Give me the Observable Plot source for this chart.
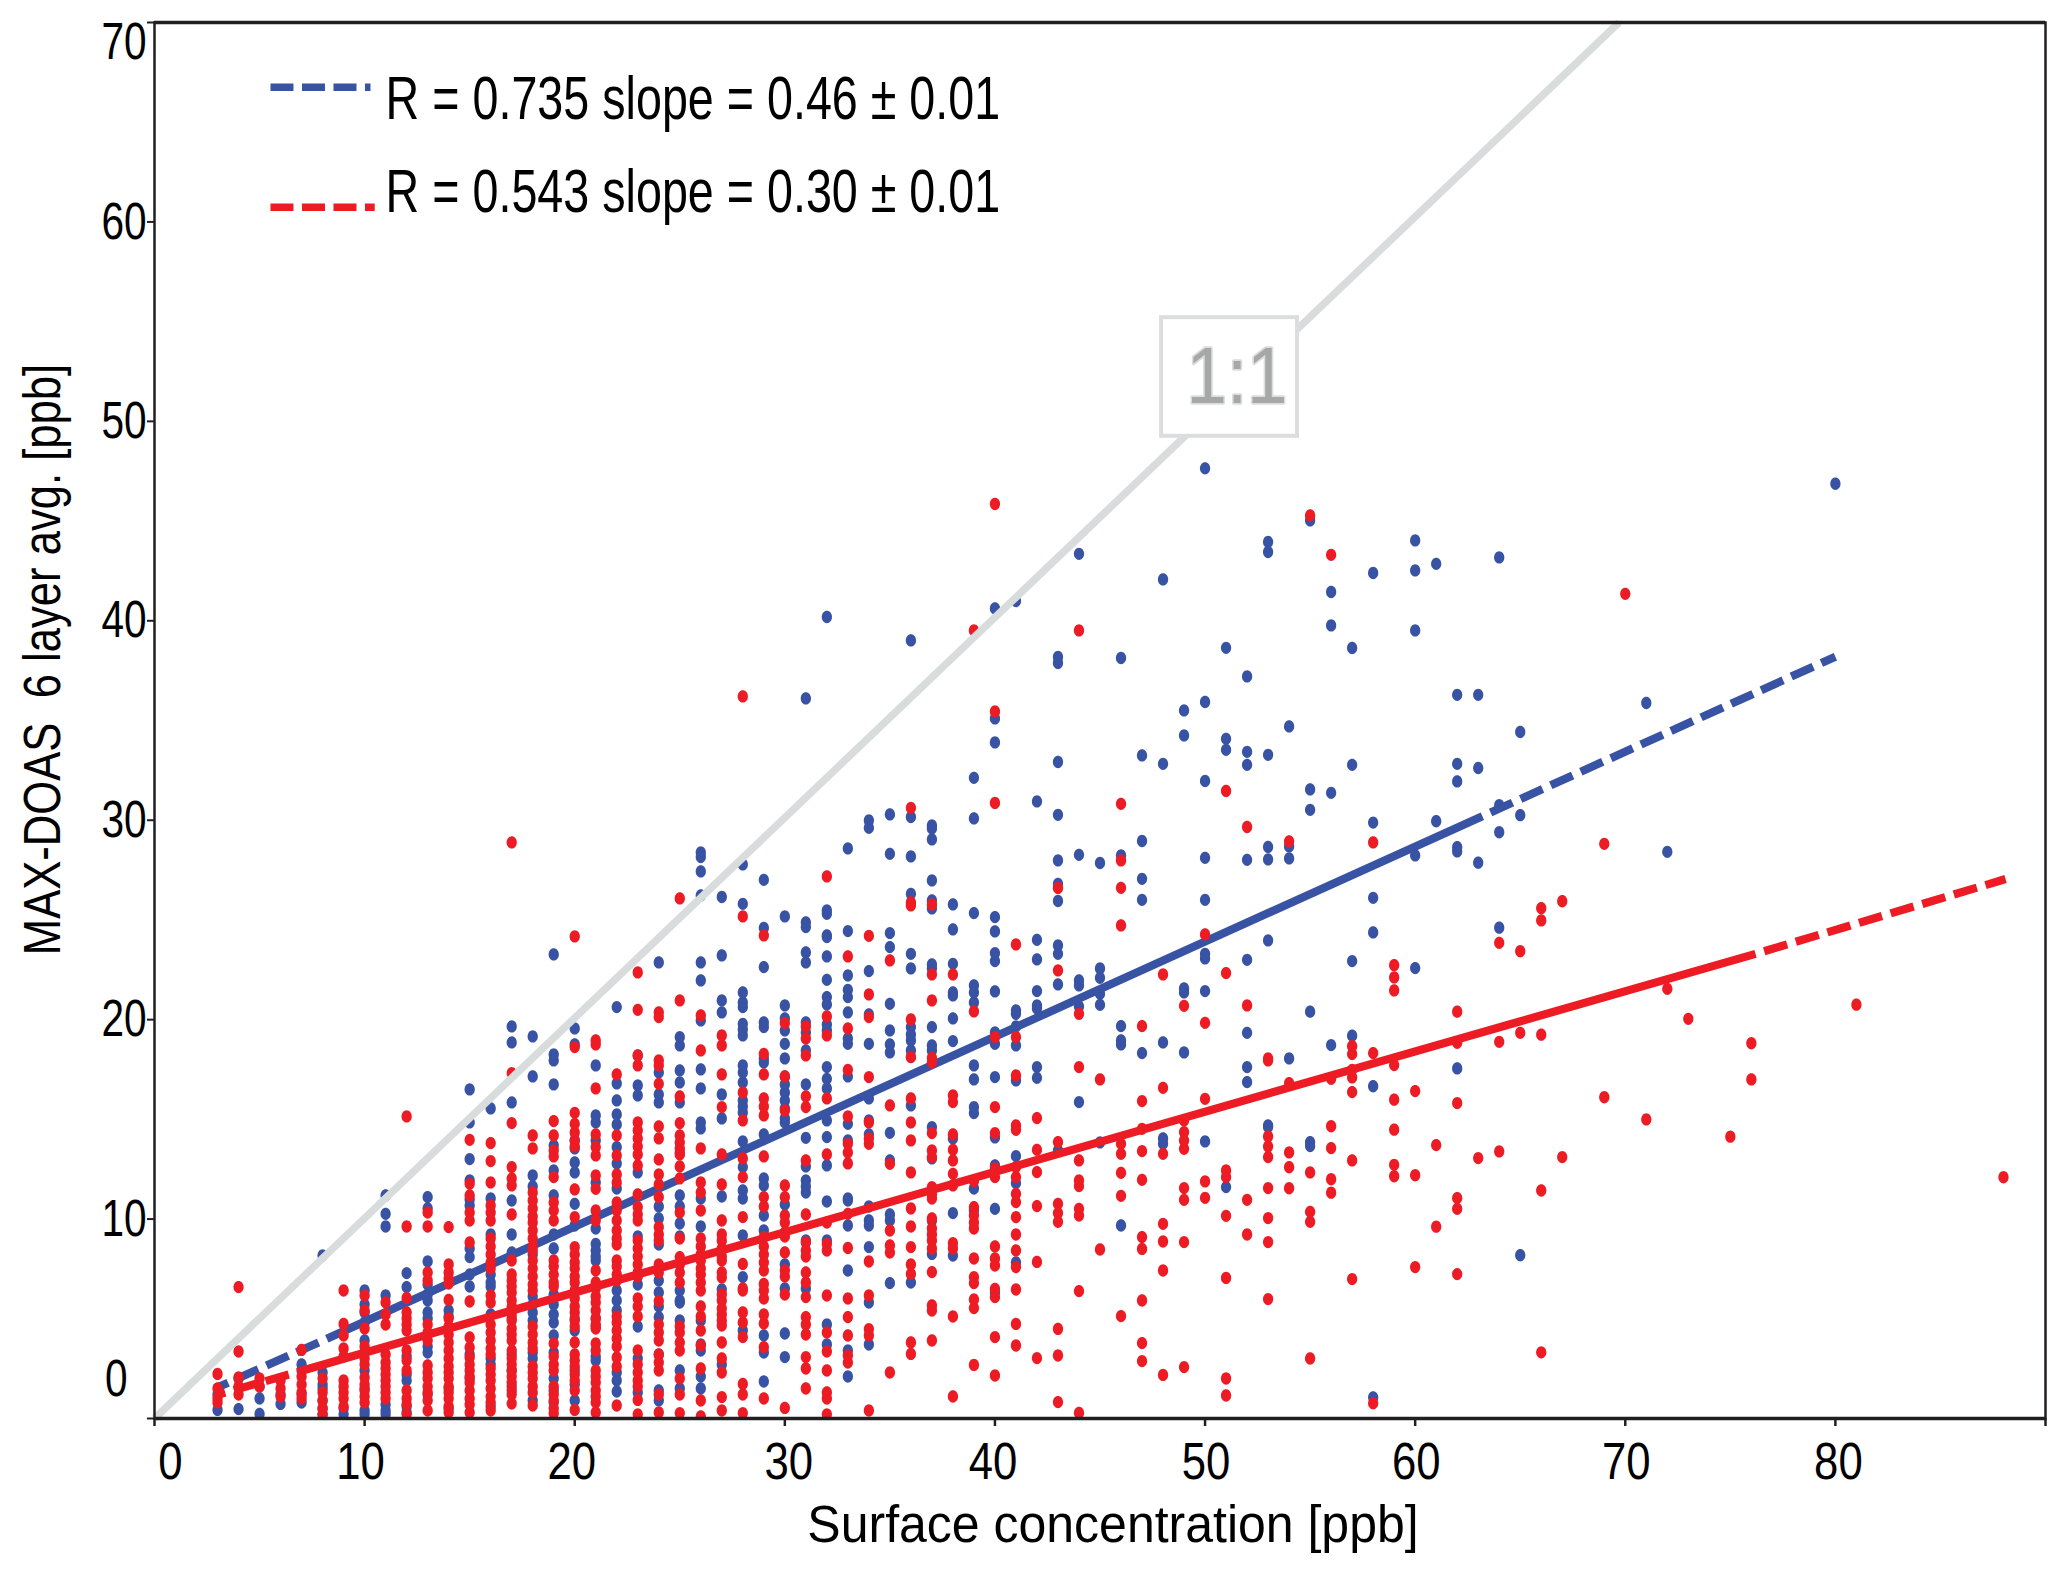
<!DOCTYPE html>
<html><head><meta charset="utf-8">
<script src="https://cdn.jsdelivr.net/npm/d3@7"></script>
<script src="https://cdn.jsdelivr.net/npm/@observablehq/plot@0.6"></script>
<style>html,body{margin:0;padding:0;background:#fff}svg{display:block}</style>
</head><body><div id="chart"></div>
<script>
const blueColumns = [
[3,[0.43,1.2]],[4,[0.47,2.0]],[5,[0.23,1.0,1.6]],[6,[0.73,1.2]],[7,[0.8,1.2,2.4,2.7]],
[8,[0.2,0.5,0.9,1.5,1.7,2.3,8.15]],[9,[0.2,0.5]],[10,[0.2,0.4,1.5,2.4,3.9,4.8,5.3,5.7,6.4]],
[11,[0.2,0.4,0.7,6.15,9.6,10.23,11.15]],[12,[0.3,0.6,1.9,2.2,3.1,6.57,7.27]],
[13,[1.2,3.3,3.6,5.0,5.3,5.9,6.2,6.7,7.85,10.5,11.07]],[14,[0.5,1.5,5.1,5.4]],
[15,[2.0,3.2,6.6,7.2,8.07,8.5,10.65,10.95,11.9,12.97,14.8,16.45]],
[16,[0.6,2.7,3.0,5.2,6.6,6.8,7.2,9.2,11.0,15.5]],
[17,[1.6,2.4,3.2,5.0,8.3,9.2,10.9,15.8,19.6,18.8]],
[18,[0.9,3.0,3.3,4.9,5.3,5.7,6.1,8.2,11.6,12.15,17.1,19.1]],
[19,[0.8,1.4,2.0,3.3,4.15,4.8,5.2,5.7,6.2,8.5,9.2,11.15,12.4,13.65,16.7,17.9,18.2,23.2]],
[20,[0.9,1.7,2.4,4.4,5.0,9.65,10.73,12.3,12.8,13.5,13.9,18.7,19.5]],
[21,[2.9,3.1,4.6,5.0,7.9,8.1,8.4,8.73,9.5,11.8,13.9,14.8,15.15,17.65]],
[22,[1.35,1.9,2.3,5.4,5.9,6.4,11.5,12.75,13.57,14.7,15.2,15.9,16.75,20.57]],
[23,[1.3,3.0,4.6,6.7,9.1,12.3,16.15,16.65,18.15]],
[24,[0.9,1.4,3.2,5.07,5.6,6.3,6.9,8.7,10.0,10.6,15.8,16.2,17.3,22.8]],
[25,[1.5,2.4,4.9,5.8,5.9,6.4,9.75,9.1,10.6,11.15,13.3,15.8,16.8,17.4,18.65,19.07]],
[26,[1.5,2.1,3.4,3.7,4.9,9.6,11.0,14.5,14.8,16.5,17.45,19.9,21.9,22.8,26.15,27.35,28.07,28.3]],
[27,[2.7,6.45,11.1,15.0,16.2,20.3,20.9,23.15,26.07]],
[28,[4.4,7.07,9.15,11.0,11.4,12.57,13.85,15.3,15.6,15.9,16.8,17.3,17.65,19.15,19.45,19.73,20.57,20.8,21.3,25.73,27.7]],
[29,[1.85,3.3,4.15,10.15,9.4,11.65,12.0,14.2,17.8,18.0,19.57,19.8,22.57,24.53,26.93]],
[30,[3.07,4.25,6.5,7.7,10.7,14.8,15.0,15.5,15.9,16.3,16.7,17.1,18.0,18.73,19.4,20.0,20.65,25.1]],
[31,[6.5,8.9,11.3,11.6,11.9,12.6,14.03,16.7,18.4,19.3,19.8,22.8,23.3,24.57,24.8,36.0]],
[32,[3.7,4.7,8.9,10.85,12.65,14.07,14.9,16.5,16.98,17.57,19.4,19.7,20.7,21.07,21.93,23.1,24.07,24.15,25.23,25.4,40.07]],
[33,[2.1,3.4,7.4,9.65,10.9,11,13.9,14.73,17.1,18.73,19.0,20.3,21.07,21.43,22.15,24.37,28.5]],
[34,[3.7,5.8,8.57,9.65,9.9,10.6,14.2,14.9,16.0,18.73,20.2,22.37,29.53,29.9]],
[35,[6.77,9.9,10.2,12.9,14.28,18.3,18.7,19.4,20.73,23.57,24.27,28.23,30.2]],
[36,[6.8,15.65,18.07,18.4,18.9,19.2,19.57,22.5,23.23,26.23,28.1,30.07,38.9]],
[37,[8.23,9.9,13.0,14.57,18.4,18.65,19.57,22.5,22.7,25.5,25.9,26.9,28.95,29.5,29.65]],
[38,[8.15,10.27,14.0,18.87,20.0,21.15,21.3,22.73,24.45,25.7]],
[39,[10.4,11.5,15.27,15.57,16.95,17.65,20.8,21.3,21.65,25.27,30.0,32.03]],
[40,[6.3,12.65,14.05,10.48,17.07,18.73,19.3,21.35,22.87,23.27,24.35,25.07,33.8,35.0,40.5]],
[41,[7.8,11.77,13.12,16.9,18.65,19.6,20.23,20.4,40.87]],
[42,[17.03,17.57,20.5,20.65,21.37,22.95,23.93,30.85]],
[43,[13.4,21.7,23.23,23.65,25.87,26.73,27.9,30.18,32.82,37.77,38.07]],
[44,[15.82,20.6,21.65,21.9,28.18,43.23]],
[45,[13.8,20.68,21.23,22.03,22.5,27.77]],
[46,[9.65,18.7,18.9,19.62,28.15,38.02]],
[47,[18.27,25.93,26.98,28.87,33.15]],
[48,[13.73,14.0,18.8,32.73,41.95]],
[49,[18.3,21.3,21.5,34.15,35.4]],
[50,[13.85,21.37,23.0,23.23,25.93,28.03,31.87,35.82,47.5]],
[51,[11.57,33.43,33.98,38.53]],
[52,[16.82,17.57,19.28,22.93,27.93,32.68,33.33,37.1]],
[53,[14.57,14.65,23.9,27.95,28.57,33.18,43.32,43.82]],
[54,[18.0,28.0,28.6,34.6]],
[55,[13.62,13.82,20.34,30.43,31.45,44.9]],
[56,[18.67,31.28,39.65,41.32]],
[57,[19.14,22.87,32.68,38.52]],
[58,[1.06,16.61,24.3,26.03,29.79,42.27]],
[60,[22.52,28.15,39.4,42.4,43.9]],
[61,[29.86,42.73]],
[62,[17.5,28.35,28.56,31.85,32.73,36.18]],
[63,[27.79,32.52,36.18]],
[64,[24.54,29.31,30.66,43.05]],
[65,[8.16,30.16,34.32]],
[71,[35.77]],[72,[28.33]],[80,[46.73]]
];
const redColumns = [
[3,[0.8,1.0,1.5,2.23]],[4,[1.2,1.6,2.05,3.35,6.57]],[5,[1.6,2.0]],[6,[1.1,1.5,1.9]],[7,[1.0,1.3,1.7,2.1,3.43]],
[8,[0.2,0.5,0.9,1.3,2.0]],[9,[0.6,1.0,1.3,1.6,1.9,3.1,3.5,4.15,4.73,6.4]],
[10,[0.8,1.1,1.4,1.7,2.05,2.7,3.0,3.3,3.6,4.5,5.4,6.15]],
[11,[1.0,1.3,1.6,1.9,2.2,2.5,2.8,3.2,4.7,5.2,5.8]],
[12,[0.2,0.7,1.0,1.4,2.4,2.9,3.4,4.4,4.7,5.0,5.3,6.03,9.6,15.1]],
[13,[0.4,0.9,1.3,1.6,2.0,2.3,2.65,3.9,4.3,4.7,6.9,7.3,9.6,10.3]],
[14,[0.3,0.6,1.0,1.3,1.6,2.0,2.3,2.6,3.0,3.4,3.8,4.2,4.6,5.0,5.93,6.75,7.0,7.3,7.7,9.57]],
[15,[0.3,0.7,1.0,1.4,1.8,2.1,2.4,2.7,3.05,3.55,4.05,5.85,8.8,9.9,10.3,11.15,11.73,13.93]],
[16,[0.4,0.8,1.1,1.5,1.9,2.2,2.5,3.2,3.5,3.9,4.3,4.7,5.8,6.15,7.5,7.8,8.2,8.6,9.0,9.9,10.3,10.65,11.8,12.87,13.77]],
[17,[0.75,1.2,1.4,1.8,2.1,2.4,2.7,3.0,3.4,3.9,4.2,4.5,4.9,5.2,5.6,5.9,6.3,6.6,6.9,7.2,7.9,10.2,11.65,12.0,12.57,14.77,17.27,28.8]],
[18,[0.65,1.3,1.6,2.0,2.3,2.6,3.5,3.8,4.2,4.6,6.4,6.7,7.1,7.5,7.9,8.4,8.6,9.0,9.4,9.8,10.1,10.5,10.9,11.3,13.5,14.15]],
[19,[0.25,0.5,0.9,1.2,1.6,2.4,2.7,3.1,3.75,6.6,6.8,7.2,7.6,7.9,9.9,10.4,10.8,12.07,13.1,13.4,14.15,14.87]],
[20,[0.43,1.4,1.9,2.2,2.6,2.9,3.2,3.8,4.6,4.9,5.3,5.6,6.0,6.4,6.8,7.1,7.5,7.8,8.2,8.57,10.07,11.45,13.6,13.9,14.3,14.73,15.28,18.57,24.1]],
[21,[0.3,0.8,1.1,1.4,1.8,2.1,2.4,3.4,3.75,4.5,4.7,5.0,5.4,5.8,6.1,6.5,6.8,7.4,9.9,10.4,11.48,12.15,13.15,13.57,14.2,16.5,18.7,18.9]],
[22,[0.65,2.6,3.05,3.6,4.0,4.4,4.8,5.1,6.9,7.2,7.6,7.9,8.7,9.0,9.4,9.9,10.4,10.8,11.8,12.2,13.15,14.15,17.2]],
[23,[0.2,0.93,1.6,1.9,2.3,2.7,3.4,5.1,5.6,6.0,7.1,7.3,7.7,8.1,8.5,8.9,9.9,10.2,10.57,11.2,12.65,13.2,13.6,14.0,14.4,14.8,17.65,18.15,20.43,22.3]],
[24,[0.3,1.2,2.4,2.8,3.2,3.9,4.3,4.7,5.87,7.3,7.7,8.9,9.2,9.57,11.07,11.7,12.2,12.95,14.0,14.6,16.73,17.65,17.9,20.07,20.3]],
[25,[0.27,1.2,2.0,3.4,3.8,4.3,4.6,6.8,7.3,7.7,8.07,9.0,10.3,12.0,12.6,13.2,13.5,13.8,14.15,14.77,16.1,20.9,26.0]],
[26,[0.1,0.9,2.5,3.65,4.4,5.1,5.6,6.4,6.8,7.2,7.5,7.9,8.2,8.6,9.0,10.4,11.3,11.8,13.5,18.4,20.15]],
[27,[0.4,1.07,2.3,3.0,3.8,4.65,4.9,5.2,5.5,5.9,6.2,7.05,7.3,7.9,8.1,8.5,8.9,9.2,9.9,11.7,13.2,15.57,17.2,18.65,19.15]],
[28,[0.27,1.2,1.73,4.07,4.8,5.3,6.4,6.5,7.73,10.07,12.07,13.0,14.9,16.3,25.1,36.1]],
[29,[1.0,3.57,4.75,5.2,6.0,6.4,6.73,7.4,7.8,8.2,8.6,9.07,10.6,11.07,13.1,15.15,15.6,16.0,17.2,18.23,24.15]],
[30,[0.53,6.2,7.1,7.4,8.3,9.1,9.3,9.8,10.15,11.07,11.65,15.4,17.1,19.77]],
[31,[1.5,2.5,3.07,4.2,4.7,5.07,6.07,6.8,7.3,8.1,8.4,8.8,10.2,12.9,15.57,16.1,18.15,19.0,19.6]],
[32,[0.2,1.0,1.3,2.4,3.35,4.3,6.15,8.4,8.73,9.8,13.2,16.0,19.15,20.1,27.1]],
[33,[2.8,3.15,4.15,5.07,6.0,8.53,10.23,12.75,13.3,13.73,15.1,17.43,19.5,23.1]],
[34,[0.4,4.15,4.47,6.15,7.85,13.73,14.0,14.8,17.07,20.07,21.2,24.13]],
[35,[2.3,8.3,8.65,9.4,12.73,15.65,22.9]],
[36,[3.23,3.8,7.23,7.7,8.57,9.6,10.5,12.3,13.9,14.8,16.0,18.07,19.95,25.65,25.8,30.53]],
[37,[3.9,5.4,5.65,7.32,8.5,8.9,9.2,9.5,10.0,11.0,11.2,11.57,13.07,13.4,14.27,17.8,18.03,20.9,22.2,25.7]],
[38,[1.1,5.1,8.5,8.77,11.65,12.23,12.9,13.43,14.2,15.82,16.15,22.2]],
[39,[2.68,5.52,5.95,6.77,7.07,8.0,9.5,9.8,10.15,10.57,11.87,20.35,39.4]],
[40,[2.15,4.07,6.07,6.48,7.65,8.0,8.6,12.07,12.5,14.27,15.57,19.07,30.77,35.35,45.72]],
[41,[3.65,4.73,6.45,7.57,8.4,9.2,10.07,10.82,11.23,12.07,12.57,14.43,14.65,17.15,19.07,23.7]],
[42,[3.02,7.83,10.62,12.32,13.43,15.02]],
[43,[0.82,3.15,4.48,9.83,10.27,10.73,13.82,22.4,26.52]],
[44,[0.28,6.37,10.15,10.48,11.62,11.9,12.9,17.57,20.23,39.4]],
[45,[8.45,16.95]],
[46,[5.12,11.13,12.28,13.23,13.73,24.65,26.53,27.9,30.73]],
[47,[2.87,3.77,5.9,8.48,9.07,11.93,13.37,14.48,15.87,19.62]],
[48,[2.18,7.4,8.85,9.73,13.23,16.53,22.2]],
[49,[2.57,8.82,10.93,11.52,13.48,13.9,14.32,14.9,20.63]],
[50,[11.03,11.85,15.98,19.78,24.2]],
[51,[1.15,2.0,7.03,10.13,12.07,12.4,22.27,31.37]],
[52,[9.2,10.93,20.65,29.57]],
[53,[5.97,8.82,10.02,11.52,13.07,13.6,14.1,17.9,18.0]],
[54,[11.51,12.56,13.3,16.77,28.85]],
[55,[3.0,9.83,10.33,12.3,45.15]],
[56,[11.29,11.96,13.52,14.61,16.98,43.18]],
[57,[6.97,12.9,16.32,17.05,17.43,18.22,18.61]],
[58,[0.76,18.27,28.8]],
[59,[12.11,12.68,14.44,15.94,17.67,21.4,22.05,22.66]],
[60,[7.57,12.16,16.37]],
[61,[9.59,13.67]],
[62,[7.22,10.48,11.02,15.77,18.78,20.34]],
[63,[13.02]],
[64,[13.35,18.83,23.78]],
[65,[19.28,23.36]],
[66,[3.31,11.4,19.19,24.9,25.51]],
[67,[13.07,25.86]],
[69,[16.06,28.73]],[70,[41.23]],[71,[14.95]],[72,[21.48]],[73,[19.98]],[75,[14.09]],[76,[16.95,18.76]],[81,[20.69]],[88,[12.06]]
];
const yReadingCalibration = 1.003;
const blueFitX = [2.87, 8.2, 63.2, 80.0];
const blueFitY = [1.5, 4.0, 30.2, 38.2];
const redFitX = [2.87, 6.8, 76.2, 88.1];
const redFitY = [1.15, 2.33, 23.3, 27.05];
const identityX = [0, 69.7];
const identityY = [0, 70];
const xTicks = [0,10,20,30,40,50,60,70,80,90];
const xLabels = [10,20,30,40,50,60,70,80];
const yTicks = [0,10,20,30,40,50,60,70];
const yLabels = [10,20,30,40,50,60];
const legendText = ["R = 0.735 slope = 0.46 ± 0.01","R = 0.543 slope = 0.30 ± 0.01"];
const legendLineX = [5.52, 10.28, 10.48];
const legendLineY = [66.75, 60.73];
const legendTextAt = [11.0, 66.15, 61.48];
const box = {x1:47.93, x2:54.4, y1:49.25, y2:55.2};
const boxLabelAt = [51.52, 52.2];

const BLUE="#3953a4", RED="#ed1c24", GREY="#d9dcdc", INK="#231f20";
const FONT='"Liberation Sans",Arial,sans-serif';
const xLabelNudge = [-4,-3,4,-2,1,1,1,3];
const pts = cols => cols.flatMap(([x,ys]) => ys.map(y => ({x, y: y*yReadingCalibration})));
const row = (X,Y,i) => ({x:X[i],y:Y[i]});
const oval = {draw(c,size){
  const r=Math.sqrt(size/Math.PI), a=r*0.9, b=r*1.08, k=0.5523;
  c.moveTo(a,0);
  c.bezierCurveTo(a,k*b,k*a,b,0,b);
  c.bezierCurveTo(-k*a,b,-a,k*b,-a,0);
  c.bezierCurveTo(-a,-k*b,-k*a,-b,0,-b);
  c.bezierCurveTo(k*a,-b,a,-k*b,a,0);
  c.closePath();
}};
const fitStyle = {x:"x",y:"y",strokeWidth:8.2,strokeLinecap:"butt"};
// Dashed ends are drawn outward from the solid part, each starting with a gap.
const dashed = {strokeDasharray:"24,9",strokeDashoffset:24};
const fit = (X,Y,stroke) => [
  Plot.line([row(X,Y,1),row(X,Y,2)],{...fitStyle,stroke}),
  Plot.line([row(X,Y,1),row(X,Y,0)],{...fitStyle,...dashed,stroke}),
  Plot.line([row(X,Y,2),row(X,Y,3)],{...fitStyle,...dashed,stroke})
];
const tickFont = {fontSize:52, fontFamily:FONT, fill:"#000"};

const chart = Plot.plot({
  width:2067, height:1574, marginLeft:154, marginRight:22, marginTop:22, marginBottom:156,
  style:{background:"#fff", whiteSpace:"pre", fontFamily:FONT},
  x:{domain:[0,90], axis:null},
  y:{domain:[0,70], axis:null},
  marks:[
    Plot.dot(pts(blueColumns),{x:"x",y:"y",r:5.7,symbol:oval,fill:BLUE,stroke:"none",clip:true}),
    ...fit(blueFitX,blueFitY,BLUE),
    Plot.dot(pts(redColumns),{x:"x",y:"y",r:5.7,symbol:oval,fill:RED,stroke:"none",clip:true}),
    ...fit(redFitX,redFitY,RED),
    Plot.line(identityX.map((x,i)=>({x,y:identityY[i]})),{x:"x",y:"y",stroke:GREY,strokeWidth:7.5,strokeLinecap:"butt"}),
    Plot.rect([box],{x1:"x1",x2:"x2",y1:"y1",y2:"y2",fill:"#fff",stroke:"#dcdede",strokeWidth:4}),
    Plot.text(["1:1"],{x:boxLabelAt[0],y:boxLabelAt[1],fontSize:79,fontFamily:FONT,fill:"#a6a8a8",stroke:"#dcdede",strokeWidth:3.5,className:"sq92"}),
    Plot.frame({stroke:INK,strokeWidth:2.5}),
    Plot.ruleY([0,70],{stroke:INK,strokeWidth:3.5}),
    Plot.axisX({ticks:xTicks,tickSize:8,text:null,stroke:INK,strokeWidth:2.5,label:null}),
    Plot.axisY({ticks:yTicks,tickSize:7,text:null,stroke:INK,strokeWidth:2,label:null}),
    ...xLabels.map((d,i)=>Plot.text([d],{x:d=>d,frameAnchor:"bottom",dx:xLabelNudge[i],dy:24,lineAnchor:"top",className:"sq84",...tickFont})),
    Plot.text([0],{x:d=>d,frameAnchor:"bottom",dx:16,dy:24,lineAnchor:"top",className:"sq84",...tickFont}),
    Plot.text(yLabels,{y:d=>d,frameAnchor:"left",dx:-8,textAnchor:"end",className:"sq78",...tickFont}),
    Plot.text([0],{y:d=>d,frameAnchor:"left",dx:-27,dy:-39,textAnchor:"end",className:"sq78",...tickFont}),
    Plot.text([70],{y:d=>d,frameAnchor:"left",dx:-8,dy:20,textAnchor:"end",className:"sq78",...tickFont}),
    Plot.text(["Surface concentration [ppb]"],{frameAnchor:"bottom",dx:13,dy:107,lineAnchor:"middle",textAnchor:"middle",fontSize:51,fontFamily:FONT,fill:"#000",className:"sq98"}),
    Plot.text(["MAX-DOAS  6 layer avg. [ppb]"],{frameAnchor:"left",dx:-110.5,dy:-61,rotate:-90,textAnchor:"middle",lineAnchor:"middle",fontSize:51,fontFamily:FONT,fill:"#000",className:"sq855"}),
    Plot.line([{x:legendLineX[0],y:legendLineY[0]},{x:legendLineX[1],y:legendLineY[0]}],{x:"x",y:"y",stroke:BLUE,strokeWidth:7.5,strokeLinecap:"butt",strokeDasharray:"23,8.5"}),
    Plot.line([{x:legendLineX[0],y:legendLineY[1]},{x:legendLineX[2],y:legendLineY[1]}],{x:"x",y:"y",stroke:RED,strokeWidth:7.5,strokeLinecap:"butt",strokeDasharray:"23,8.5"}),
    Plot.text([legendText[0]],{x:legendTextAt[0],y:legendTextAt[1],textAnchor:"start",fontSize:61,fontFamily:FONT,fill:"#000",className:"sq765"}),
    Plot.text([legendText[1]],{x:legendTextAt[0],y:legendTextAt[2],textAnchor:"start",fontSize:61,fontFamily:FONT,fill:"#000",className:"sq765"})
  ]
});
document.getElementById("chart").append(chart);
// The reference's lettering is condensed: squeeze each real text to its width there.
for (const [cls,f] of [["sq78",.78],["sq765",.765],["sq84",.84],["sq92",.92],["sq98",.98],["sq855",.855]]) {
  chart.querySelectorAll(`.${cls} text, text.${cls}`).forEach(t => {
    t.setAttribute("textLength", t.getComputedTextLength()*f);
    t.setAttribute("lengthAdjust","spacingAndGlyphs");
  });
}
</script></body></html>
